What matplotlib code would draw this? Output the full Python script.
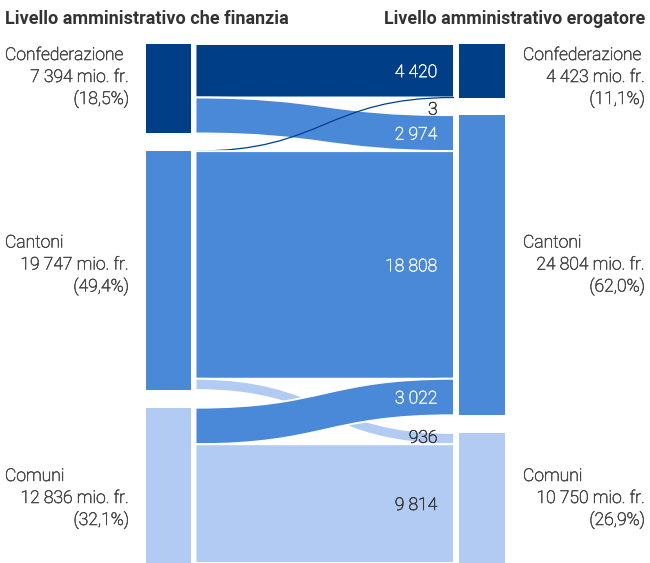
import matplotlib
matplotlib.use("Agg")
import matplotlib.pyplot as plt
import matplotlib.patheffects as pe
from matplotlib.path import Path
from matplotlib.patches import PathPatch, Rectangle

# ---------------- data ----------------
levels = ["Confederazione", "Cantoni", "Comuni"]
source_totals = [7394, 19747, 12836]
target_totals = [4423, 24804, 10750]
source_shares = ["18,5%", "49,4%", "32,1%"]
target_shares = ["11,1%", "62,0%", "26,9%"]
flow_source = [0, 0, 1, 1, 1, 2, 2]
flow_target = [0, 1, 0, 1, 2, 1, 2]
flow_values = [4420, 2974, 3, 18808, 936, 3022, 9814]
title_left = "Livello amministrativo che finanzia"
title_right = "Livello amministrativo erogatore"

# ---------------- style ----------------
node_colors = ["#003F87", "#4A88D8", "#B1CBF2"]
label_on_color = ["#EEF3FA", "#EEF3FA", "#3A3A3A"]
text_gray = "#4A4A4A"
FONT = ["Roboto", "DejaVu Sans"]
FS = 12.6
WT = "light"

W, H = 650, 563
fig = plt.figure(figsize=(W / 100, H / 100), dpi=100)
plt.rcParams["font.family"] = FONT

def thick(c):
    return [pe.withStroke(linewidth=0.45, foreground=c)]

ax_l, ax_r, ax_top, ax_bot = 146, 505, 44, 563
ax = fig.add_axes([ax_l / W, 1 - ax_bot / H, (ax_r - ax_l) / W, (ax_bot - ax_top) / H])
total = sum(source_totals)
gap = 1455
ax.set_xlim(0, 1)
ax.set_ylim(total + 2 * gap, 0)
ax.axis("off")

def px2x(px):
    return (px - ax_l) / (ax_r - ax_l)

node_w_left = (px2x(146), px2x(191))
node_w_right = (px2x(459), px2x(505))
fx0, fx1 = px2x(195.5), px2x(454)
label_x = px2x(437.5)
units_per_px = (total + 2 * gap) / (ax_bot - ax_top)

def fmt(v):
    return f"{v:,}".replace(",", " ")

def node_tops(totals):
    tops, y = [], 0
    for t in totals:
        tops.append(y)
        y += t + gap
    return tops

src_tops = node_tops(source_totals)
tgt_tops = node_tops(target_totals)

for i in range(3):
    ax.add_patch(Rectangle((node_w_left[0], src_tops[i]), node_w_left[1] - node_w_left[0],
                           source_totals[i], facecolor=node_colors[i], edgecolor="none"))
    ax.add_patch(Rectangle((node_w_right[0], tgt_tops[i]), node_w_right[1] - node_w_right[0],
                           target_totals[i], facecolor=node_colors[i], edgecolor="none"))

# flows (coloured by the receiving level)
src_off = list(src_tops)
tgt_off = list(tgt_tops)
xm = (fx0 + fx1) / 2
for s, t, v in zip(flow_source, flow_target, flow_values):
    y0 = src_off[s]
    y1 = tgt_off[t]
    src_off[s] += v
    tgt_off[t] += v
    col = node_colors[t]
    if v / units_per_px < 2:
        yc0, yc1 = y0 + v / 2, y1 + v / 2
        verts = [(fx0, yc0), (xm, yc0), (xm, yc1), (fx1, yc1)]
        codes = [Path.MOVETO, Path.CURVE4, Path.CURVE4, Path.CURVE4]
        ax.add_patch(PathPatch(Path(verts, codes), facecolor="none", edgecolor=col, lw=0.9, zorder=2))
        ax.annotate(fmt(v), (label_x, y1 + v / 2), xytext=(0, -12.3), textcoords="offset points",
                    ha="right", va="baseline", fontsize=FS, fontweight=WT, color="#3A3A3A",
                    path_effects=thick("#3A3A3A"))
    else:
        verts = [(fx0, y0), (xm, y0), (xm, y1), (fx1, y1),
                 (fx1, y1 + v), (xm, y1 + v), (xm, y0 + v), (fx0, y0 + v), (fx0, y0)]
        codes = [Path.MOVETO, Path.CURVE4, Path.CURVE4, Path.CURVE4,
                 Path.LINETO, Path.CURVE4, Path.CURVE4, Path.CURVE4, Path.CLOSEPOLY]
        ax.add_patch(PathPatch(Path(verts, codes), facecolor=col, edgecolor="white", lw=1.4, zorder=2))
        tc = label_on_color[t] if v / units_per_px > 15 else "#3A3A3A"
        dy = -4.6 if v / units_per_px > 15 else -3.0
        ax.annotate(fmt(v), (label_x, y1 + v / 2), xytext=(0, dy), textcoords="offset points",
                    ha="right", va="baseline", fontsize=FS, fontweight=WT, color=tc, zorder=3,
                    path_effects=thick(tc))

# titles
fig.text(5 / W, 1 - 24 / H, title_left, ha="left", va="baseline", fontsize=13,
         fontweight="bold", color="#333333")
fig.text(645 / W, 1 - 24 / H, title_right, ha="right", va="baseline", fontsize=12.8,
         fontweight="bold", color="#333333")

# node labels
label_baselines = [60, 247.5, 481]
line_h = 22

def node_label(xl, xr, base, name, total_v, share):
    kw = dict(va="baseline", fontsize=FS, fontweight=WT, color=text_gray,
              path_effects=thick(text_gray))
    fig.text(xl / W, 1 - base / H, name, ha="left", **kw)
    fig.text(xr / W, 1 - (base + line_h) / H, f"{fmt(total_v)} mio. fr.", ha="right", **kw)
    fig.text(xr / W, 1 - (base + 2 * line_h) / H, f"({share})", ha="right", **kw)

for i in range(3):
    node_label(5, 129, label_baselines[i], levels[i], source_totals[i], source_shares[i])
    node_label(523, 645, label_baselines[i], levels[i], target_totals[i], target_shares[i])

fig.savefig("out.png", dpi=100, facecolor="white")
